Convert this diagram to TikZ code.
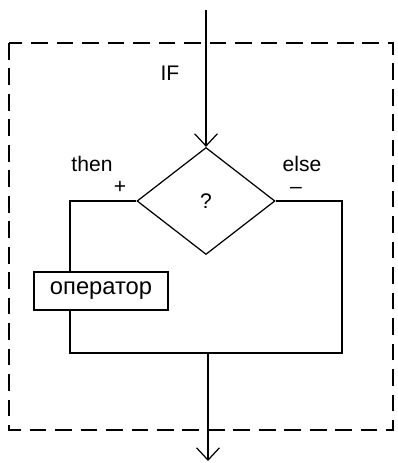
\documentclass[tikz,border=0pt]{standalone}
\usepackage{fontspec}
\setmainfont{Liberation Sans}
\usetikzlibrary{shapes.geometric,arrows.meta}

\tikzset{
  flow/.style={line width=0.7pt, -{Straight Barb[length=7pt,width=13pt,line width=0.7pt]}},
  line/.style={line width=0.7pt},
  frame/.style={line width=1.3pt, dash pattern=on 9.5pt off 5pt},
  cond/.style={diamond, draw, line width=0.7pt, inner sep=0pt,
    minimum width=2.76cm, minimum height=2.14cm, aspect=1.3},
  opbox/.style={rectangle, draw, fill=white, line width=1.4pt, inner sep=0pt,
    minimum width=2.68cm, minimum height=0.76cm, font=\fontsize{13.5}{16}\selectfont},
  lbl/.style={font=\fontsize{12}{14}\selectfont, inner sep=0pt}
}

\begin{document}
\begin{tikzpicture}[x=0.02cm, y=-0.02cm]
                \useasboundingbox (0,0) rectangle (398,463);

                % Define node positions
                \node[cond] (q) at (206,201) {\fontsize{12}{14}\selectfont ?};
                \node[opbox] (op) at (101,291) {оператор};
                \coordinate (in) at (206,10);
                \coordinate (lb) at (70,353); \coordinate (rb) at (342,353);
                \coordinate (join) at (208,353);
                \coordinate (out) at (208,461);

                % Labels
                \node[lbl] (if) at (170,73) {IF};
                \node[lbl] (then) at (92,164) {then};
                \node[lbl] (plus) at (120,187) {+};
                \node[lbl] (else) at (302,164) {else};
                \node[lbl, text height=1ex, text depth=0pt] (minus) at (296,189) {–};

                % Dashed frame
                \draw[frame] (9,43) rectangle (393,430);

                % Draw arrows
                \draw[flow] (in) -- (q.north);
                \draw[line] (q.west) -| (lb |- op.north);
                \draw[line] (lb |- op.south) -- (lb) -- (rb) |- (q.east);
                \draw[flow] (join) -- (out);
            \end{tikzpicture}
\end{document}
